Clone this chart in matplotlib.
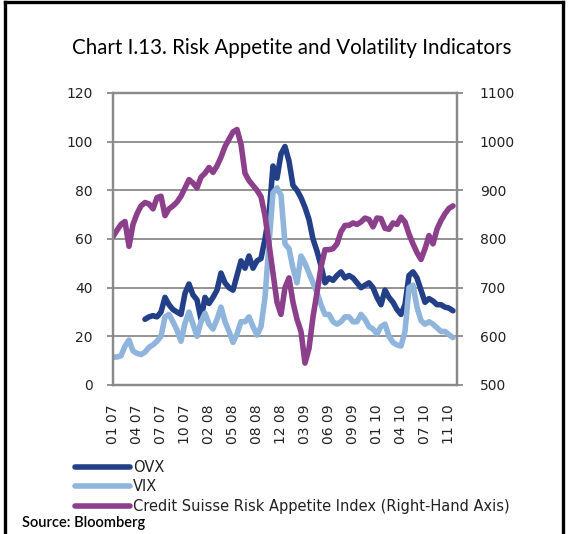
import numpy as np
import matplotlib
matplotlib.use("Agg")
import matplotlib.pyplot as plt
from matplotlib.lines import Line2D

# ---------------- data ----------------
tick_labels = ["01 07", "04 07", "07 07", "10 07", "02 08", "05 08", "08 08", "12 08",
               "03 09", "06 09", "09 09", "01 10", "04 10", "07 10", "11 10"]
tick_every = 6  # one label every 6 observations

nan = np.nan
ovx = [nan, nan, nan, nan, nan, nan, nan, nan,
       27, 28, 28.5, 28, 30, 36, 33, 31, 30, 29, 37.7, 41.5,
       37, 35, 27, 36, 33.5, 36, 39, 46, 42, 40,
       39, 45, 51, 48, 53, 48, 51, 52, 60, 70,
       90, 85, 95, 98, 92, 82, 80, 77, 73, 68,
       60, 55, 49, 42, 44, 43, 45, 46.5, 44, 45,
       44, 42, 40, 41, 42, 40, 36, 33, 39, 36,
       34, 31, 29, 33, 45, 46.5, 44, 39, 34, 35.5,
       34.5, 33, 33, 32, 31.6, 30.5]

vix = [11.5, 11.5, 12, 16, 18.5, 14, 13, 12.5, 13.5, 15.5,
       16.5, 18, 20, 28, 29, 26, 22.5, 18, 25.4, 30,
       25, 20, 26, 29.5, 25, 23, 27, 32, 26, 22,
       17.5, 21, 26, 26, 28, 24, 20.5, 24, 36, 58,
       79, 81, 78, 58, 56, 48, 42, 53, 50, 46,
       42, 38, 33, 29, 29, 26, 25, 26, 28, 28,
       26, 26, 29, 27, 24, 23, 21, 24, 25, 20,
       17.5, 16.5, 16, 22, 40, 41, 32, 26.5, 25, 26,
       25, 23.5, 22, 22, 20.7, 19.5]

csrai = [805, 818, 830, 836, 785, 830, 852, 868, 875, 872,
         862, 885, 888, 848, 862, 868, 876, 888, 905, 922,
         915, 905, 927, 935, 947, 937, 950, 968, 990, 1005,
         1020, 1025, 995, 935, 920, 910, 900, 887, 848, 790,
         730, 670, 645, 700, 720, 670, 635, 610, 545, 575,
         640, 690, 742, 778, 778, 780, 790, 815, 828, 828,
         833, 830, 835, 843, 840, 825, 843, 842, 822, 820,
         833, 830, 845, 835, 810, 790, 772, 758, 780, 807,
         790, 820, 838, 852, 863, 868]

series_names = ["OVX", "VIX", "Credit Suisse Risk Appetite Index (Right-Hand Axis)"]
colors = ["#223F88", "#8FB5DD", "#8C3F8A"]

# ---------------- figure ----------------
W, H = 568, 534
fig = plt.figure(figsize=(W / 100, H / 100), dpi=100)
fig.patch.set_facecolor("white")

L, R, T, B = 113, 457, 93, 385
ax = fig.add_axes([L / W, (H - B) / H, (R - L) / W, (B - T) / H])
ax2 = ax.twinx()

x = np.arange(len(csrai))
lw = 4.0
l1, = ax.plot(x, ovx, color=colors[0], lw=lw, solid_capstyle="round", solid_joinstyle="round")
l2, = ax.plot(x, vix, color=colors[1], lw=lw, solid_capstyle="round", solid_joinstyle="round")
l3, = ax2.plot(x, csrai, color=colors[2], lw=lw, solid_capstyle="round", solid_joinstyle="round")

ax.set_xlim(0, 86)
ax.set_ylim(0, 120)
ax2.set_ylim(500, 1100)
ax.set_yticks(np.arange(0, 121, 20))
ax2.set_yticks(np.arange(500, 1101, 100))

tick_pos = np.arange(len(tick_labels)) * tick_every
ax.set_xticks(tick_pos)
ax.set_xticklabels(tick_labels, rotation=90, fontsize=10, color="#222222",
                   family="DejaVu Sans")
ax.tick_params(axis="x", length=0, pad=14)

grid_c = "#8a8a8a"
ax.yaxis.grid(True, color=grid_c, lw=1.3)
ax.set_axisbelow(True)
for a in (ax, ax2):
    for s in a.spines.values():
        s.set_color(grid_c)
        s.set_linewidth(1.6)
ax.tick_params(axis="y", length=4.5, width=1.3, color=grid_c, pad=10,
               labelsize=10, labelcolor="#222222")
ax2.tick_params(axis="y", length=4.5, width=1.3, color=grid_c, pad=12,
                labelsize=10, labelcolor="#222222")

# title
fig.text(292 / W, 1 - 48 / H, "Chart I.13. Risk Appetite and Volatility Indicators",
         ha="center", va="center", fontsize=14.8,
         family=["Lato", "DejaVu Sans"], color="black")

# legend
leg = fig.legend([l1, l2, l3], series_names,
                 loc="upper left", bbox_to_anchor=(75 / W, 1 - 460 / H),
                 frameon=False, fontsize=10.5, handlelength=3.8, handletextpad=0.2,
                 labelspacing=0.3, borderpad=0, borderaxespad=0)
for t in leg.get_texts():
    t.set_color("#222222")

# source
fig.text(22 / W, 1 - 523 / H, "Source: Bloomberg", ha="left", va="center",
         fontsize=10.5, family=["Lato", "DejaVu Sans"], weight="semibold",
         color="black")

# outer frame (left, top, right)
def fx(px):
    return px / W

def fy(py):
    return 1 - py / H

for xs, ys in [([fx(5), fx(5)], [fy(534), fy(2)]),
               ([fx(5), fx(563)], [fy(2), fy(2)]),
               ([fx(563), fx(563)], [fy(2), fy(534)])]:
    fig.add_artist(Line2D(xs, ys, color="black", lw=2.4, transform=fig.transFigure))

fig.savefig("out.png", dpi=100)
